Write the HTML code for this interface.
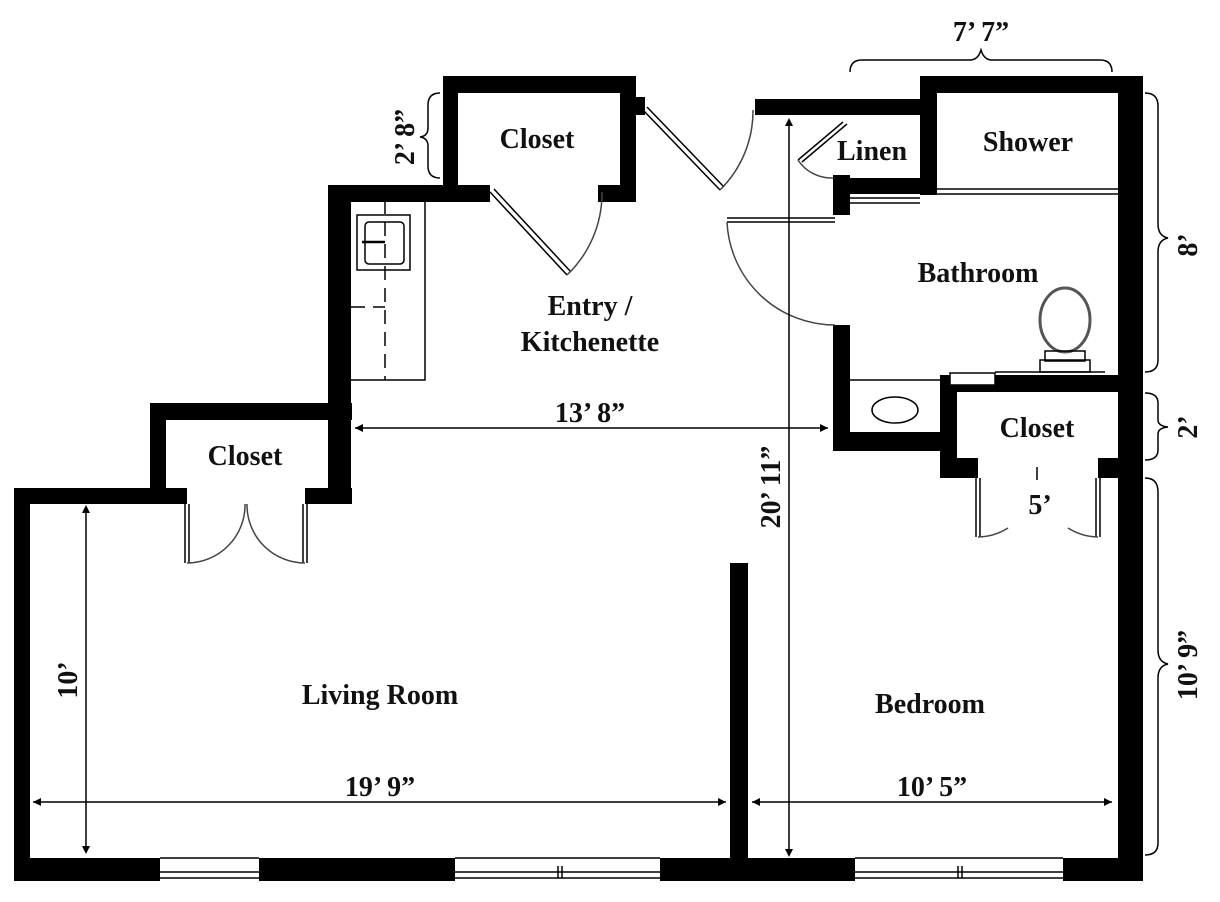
<!DOCTYPE html>
<html><head><meta charset="utf-8"><style>
html,body{margin:0;padding:0;background:#fff}
svg{display:block}
text{font-family:"Liberation Serif",serif;font-weight:bold;fill:#111}
</style></head><body>
<svg width="1220" height="902" viewBox="0 0 1220 902" xmlns="http://www.w3.org/2000/svg">
<g fill="#000">
<rect x="14" y="858" width="146" height="23"/>
<rect x="259" y="858" width="196" height="23"/>
<rect x="660" y="858" width="195" height="23"/>
<rect x="1063" y="858" width="80" height="23"/>
<rect x="14" y="488" width="16" height="393"/>
<rect x="14" y="488" width="173" height="16"/>
<rect x="150" y="403" width="202" height="17"/>
<rect x="150" y="403" width="16" height="101"/>
<rect x="305" y="488" width="47" height="16"/>
<rect x="328" y="185" width="23" height="319"/>
<rect x="328" y="185" width="162" height="17"/>
<rect x="598" y="185" width="38" height="17"/>
<rect x="443" y="76" width="193" height="17"/>
<rect x="443" y="76" width="15" height="126"/>
<rect x="620" y="76" width="16" height="126"/>
<rect x="636" y="97" width="9" height="18"/>
<rect x="755" y="99" width="182" height="16"/>
<rect x="920" y="76" width="223" height="17"/>
<rect x="920" y="76" width="17" height="119"/>
<rect x="835" y="178" width="102" height="16"/>
<rect x="833" y="175" width="17" height="40"/>
<rect x="1118" y="76" width="25" height="805"/>
<rect x="833" y="325" width="17" height="126"/>
<rect x="833" y="432" width="124" height="19"/>
<rect x="940" y="375" width="178" height="17"/>
<rect x="940" y="375" width="17" height="103"/>
<rect x="940" y="458" width="38" height="20"/>
<rect x="1098" y="458" width="20" height="20"/>
<rect x="730" y="563" width="18" height="295"/>
</g>
<rect x="950" y="373" width="45" height="12" fill="#fff" stroke="#000" stroke-width="1.5"/>
<g fill="none" stroke="#000" stroke-width="1.5">
<path d="M160 872H259M160 878H259M455 872H660M455 878H660M855 872H1063M855 878H1063M558 866V878M562 866V878M958 866V878M962 866V878"/>
<path d="M160 858H259M455 858H660M855 858H1063"/>
<path d="M937 189H1118M937 194H1118M850 198H920M850 203H920"/>
<path d="M351 200H425V380H351"/>
<rect x="357" y="215" width="53" height="55"/>
<rect x="365" y="222" width="39" height="42" rx="4"/>
<path d="M385 200V380" stroke-dasharray="14 8"/>
<path d="M351 307H385" stroke-dasharray="14 8"/>
<path d="M362 242H385" stroke-width="2.5"/>
<path d="M850 380H940"/>
<ellipse cx="895" cy="410" rx="23" ry="13"/>
<ellipse cx="1065" cy="320" rx="25" ry="32" stroke-width="3" stroke="#555"/>
<rect x="1045" y="351" width="40" height="10"/>
<rect x="1040" y="360" width="50" height="12"/>
<path d="M995 372H1105"/>
<path d="M490 192L567 275M494 189L571 272" />
<path d="M567 275A113 113 0 0 0 602 192" stroke="#444"/>
<path d="M643 110L720 190M647 107L724 187"/>
<path d="M720 190A111 111 0 0 0 753 110" stroke="#444"/>
<path d="M727 218H835M727 222H835"/>
<path d="M727 222A108 108 0 0 0 835 325" stroke="#444"/>
<path d="M843 122L798 160M847 124L802 162"/>
<path d="M798 160A40 40 0 0 0 833 178" stroke="#444"/>
<path d="M185 504V563M189 504V563M303 504V563M307 504V563"/>
<path d="M187 563A58 58 0 0 0 245 504M305 563A58 58 0 0 1 247 504" stroke="#444"/>
<path d="M976 478V537M980 478V537M1096 478V537M1100 478V537"/>
<path d="M978 537A58 58 0 0 0 1008 528M1098 537A58 58 0 0 1 1068 528" stroke="#444"/>
<path d="M1037 467V480"/>
<path d="M355 428H828M789 120V855M33 802H726M752 802H1112M86 507V852"/>
<path d="M850 72Q850 60 862 60H970Q978 60 981 50Q984 60 992 60H1100Q1112 60 1112 72"/>
<path d="M440 93Q428 93 428 105V128Q428 136 420 137Q428 138 428 146V166Q428 178 440 178"/>
<path d="M1145 93Q1158 93 1158 106V224Q1158 236 1168 238Q1158 240 1158 252V360Q1158 372 1145 372"/>
<path d="M1145 393Q1158 393 1158 403V420Q1158 426 1168 427Q1158 428 1158 434V450Q1158 460 1145 460"/>
<path d="M1145 478Q1158 478 1158 492V650Q1158 662 1168 664Q1158 666 1158 678V843Q1158 855 1145 855"/>
</g>
<g fill="#000">
<path d="M355 428l8-4v8zM828 428l-8-4v8zM789 118l-4 8h8zM789 857l-4-8h8zM33 802l8-4v8zM726 802l-8-4v8zM752 802l8-4v8zM1112 802l-8-4v8zM86 505l-4 8h8zM86 854l-4-8h8z"/>
</g>
<g font-size="28">
<text x="537" y="148" text-anchor="middle">Closet</text>
<text x="872" y="160" text-anchor="middle">Linen</text>
<text x="1028" y="151" text-anchor="middle">Shower</text>
<text x="978" y="282" text-anchor="middle">Bathroom</text>
<text x="590" y="315" text-anchor="middle">Entry /</text>
<text x="590" y="351" text-anchor="middle">Kitchenette</text>
<text x="245" y="465" text-anchor="middle">Closet</text>
<text x="1037" y="437" text-anchor="middle">Closet</text>
<text x="380" y="704" text-anchor="middle">Living Room</text>
<text x="930" y="713" text-anchor="middle">Bedroom</text>
<text x="590" y="422" text-anchor="middle">13’ 8”</text>
<text x="380" y="796" text-anchor="middle">19’ 9”</text>
<text x="932" y="796" text-anchor="middle">10’ 5”</text>
<text x="981" y="41" text-anchor="middle">7’ 7”</text>
<text x="1040" y="514" text-anchor="middle">5’</text>
<text transform="translate(780 487) rotate(-90)" text-anchor="middle">20’ 11”</text>
<text transform="translate(77 680) rotate(-90)" text-anchor="middle">10’</text>
<text transform="translate(414 137) rotate(-90)" text-anchor="middle">2’ 8”</text>
<text transform="translate(1197 245) rotate(-90)" text-anchor="middle">8’</text>
<text transform="translate(1197 427) rotate(-90)" text-anchor="middle">2’</text>
<text transform="translate(1197 665) rotate(-90)" text-anchor="middle">10’ 9”</text>
</g>
</svg>
</body></html>
